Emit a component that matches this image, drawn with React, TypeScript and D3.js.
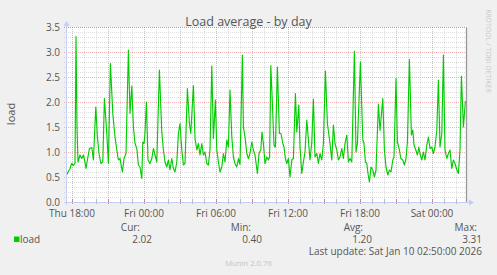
import React from 'react';
import * as d3 from 'd3';

// minutes relative to Thu Jan 8 2026 18:00
const sampleMinutes = [
  -25, -20, -10, -2, 7, 15, 20, 25, 30, 40, 49, 57, 65, 70, 77, 87, 99, 107, 119, 127,
  135, 144, 154, 162, 174, 182, 192, 204, 215, 224, 232, 240, 252, 260, 270, 282, 290, 299, 307, 315,
  324, 332, 340, 349, 354, 360, 365, 372, 380, 390, 399, 407, 415, 424, 437, 449, 457, 465, 474, 482,
  490, 499, 507, 515, 524, 532, 540, 549, 557, 565, 577, 587, 594, 607, 615, 624, 632, 640, 649, 657,
  665, 674, 682, 690, 699, 707, 717, 724, 732, 740, 749, 757, 765, 774, 782, 790, 799, 807, 815, 824,
  832, 840, 852, 857, 865, 874, 882, 890, 899, 907, 915, 927, 935, 944, 950, 957, 965, 974, 982, 988,
  994, 1002, 1010, 1017, 1027, 1037, 1045, 1054, 1060, 1067, 1074, 1082, 1090, 1099, 1107, 1117, 1124, 1134, 1140, 1149,
  1157, 1165, 1174, 1182, 1190, 1199, 1207, 1215, 1224, 1232, 1240, 1249, 1257, 1267, 1277, 1290, 1299, 1307, 1315, 1324,
  1332, 1340, 1349, 1357, 1365, 1374, 1382, 1390, 1399, 1412, 1420, 1427, 1442, 1454, 1460, 1467, 1474, 1480, 1487, 1495,
  1504, 1512, 1520, 1532, 1540, 1554, 1562, 1570, 1579, 1587, 1595, 1604, 1610, 1620, 1627, 1637, 1644, 1654, 1662, 1670,
  1677, 1687, 1697, 1704, 1710, 1719, 1727, 1734, 1740, 1749, 1757, 1765, 1774, 1782, 1790, 1799, 1807, 1815, 1824, 1832,
  1840, 1849, 1857, 1865, 1874, 1882, 1890, 1899, 1907, 1915, 1924, 1932, 1940, 1947, 1957, 1967,
];

const loadValues = [
  0.55, 0.6, 0.67, 0.77, 0.73, 0.77, 3.31, 1.5, 0.8, 0.94, 0.87, 0.94, 0.8, 0.67, 0.84, 1.07, 1.09, 0.84, 1.9, 1.3,
  0.97, 0.77, 0.8, 2.07, 1.37, 0.77, 2.77, 1.77, 1.3, 1.04, 0.84, 0.87, 0.6, 0.87, 0.97, 3.04, 1.77, 2.32, 1.5, 1.17,
  1.07, 0.74, 0.7, 0.47, 1.2, 1.17, 1.37, 2.0, 0.84, 0.77, 0.87, 1.07, 0.94, 0.8, 2.64, 1.4, 1.04, 0.8, 0.7, 0.84,
  0.64, 0.87, 0.67, 0.6, 0.8, 1.37, 1.57, 1.04, 0.74, 0.77, 2.27, 1.57, 1.37, 2.33, 1.27, 1.04, 1.17, 0.94, 1.17, 0.94,
  1.0, 0.77, 0.74, 1.04, 2.72, 1.27, 2.04, 1.04, 0.8, 0.6, 0.7, 0.97, 0.8, 1.24, 1.1, 2.24, 1.3, 0.9, 0.77, 0.7,
  0.87, 0.75, 2.94, 1.5, 1.3, 0.97, 0.87, 0.97, 1.2, 1.04, 0.94, 0.57, 0.97, 1.04, 1.4, 1.17, 0.77, 0.9, 0.84, 0.9,
  2.73, 1.97, 1.13, 1.1, 2.7, 1.37, 1.37, 1.17, 1.1, 0.87, 0.77, 0.87, 0.5, 0.84, 0.87, 2.17, 1.4, 1.94, 1.1, 0.57,
  0.8, 1.0, 1.64, 1.24, 0.84, 1.2, 2.06, 0.9, 0.97, 0.77, 0.97, 0.84, 1.17, 2.62, 1.57, 1.17, 0.84, 1.54, 1.17, 1.04,
  0.84, 0.9, 1.07, 0.87, 1.17, 1.34, 0.8, 0.87, 0.8, 3.02, 1.0, 1.17, 2.8, 1.24, 1.17, 0.8, 0.77, 0.57, 0.4, 0.7,
  0.64, 0.5, 0.64, 1.96, 1.43, 2.07, 1.04, 0.7, 0.54, 0.64, 0.6, 0.84, 0.9, 2.47, 1.2, 1.04, 0.87, 0.84, 0.74, 0.87,
  1.2, 2.85, 1.34, 1.44, 1.14, 1.04, 0.94, 1.1, 0.97, 0.84, 1.0, 0.84, 1.14, 1.3, 1.07, 1.1, 0.97, 1.1, 1.44, 2.44,
  1.1, 1.37, 2.94, 1.04, 0.87, 0.97, 1.04, 0.67, 0.84, 0.77, 0.64, 0.57, 1.04, 2.52, 1.5, 2.02,
];

const yTickValues = [0, 0.5, 1, 1.5, 2, 2.5, 3, 3.5];
const yTickLabels = ['0.0', '0.5', '1.0', '1.5', '2.0', '2.5', '3.0', '3.5'];
const xTickLabels = ['Thu 18:00', 'Fri 00:00', 'Fri 06:00', 'Fri 12:00', 'Fri 18:00', 'Sat 00:00'];
const legendHeaders = ['Cur:', 'Min:', 'Avg:', 'Max:'];
const legendValues = ['2.02', '0.40', '1.20', '3.31'];
const seriesName = 'load';
const title = 'Load average - by day';
const lastUpdate = 'Last update: Sat Jan 10 02:50:00 2026';

const W = 497;
const H = 275;
const FONT = "'Open Sans', 'Noto Sans', sans-serif";
const TEXT = '#555';
const GREEN = '#00cc00';
const AXIS = '#c4cdf5';
const MINOR = 'rgba(150,150,150,0.32)';
const MAJOR = 'rgba(220,90,90,0.45)';

export default function App() {
  const base = new Date(2026, 0, 8, 18, 0);
  const start = d3.timeMinute.offset(base, -25);
  const end = d3.timeMinute.offset(start, 2000);
  const x = d3.scaleTime().domain([start, end]).range([67, 467]);
  const y = d3.scaleLinear().domain([0, 3.5]).range([202, 27]);

  const data = sampleMinutes.map((m, i) => ({ t: d3.timeMinute.offset(base, m), v: loadValues[i] }));
  const line = d3
    .line<{ t: Date; v: number }>()
    .x((d) => x(d.t))
    .y((d) => y(d.v));

  const hours = d3.timeHour.range(start, end);
  const gridY = d3.range(0, 36).map((i) => i / 10);
  const px = (v: number) => Math.round(v) + 0.5;
  const labelTimes = xTickLabels.map((_, i) => d3.timeHour.offset(base, i * 6));
  const legendHeaderX = [140, 251, 363, 477];
  const legendValueX = [152, 262, 372, 482];

  return (
    <svg
      width={W}
      height={H}
      style={{ position: 'absolute', left: 0, top: 0, background: '#f0f0f0' }}
      fontFamily={FONT}
    >
      <rect x={0} y={0} width={W} height={H} fill="#f0f0f0" />
      <rect x={67} y={27} width={400} height={175} fill="#ffffff" />

      {/* horizontal grid */}
      {gridY.map((v) => {
        const major = Math.round(v * 10) % 5 === 0;
        return (
          <line
            key={'hy' + v}
            x1={64}
            x2={467}
            y1={px(y(v))}
            y2={px(y(v))}
            stroke={major ? MAJOR : MINOR}
            strokeDasharray="1,1"
            strokeWidth={1}
          />
        );
      })}
      <line x1={64} x2={467} y1={px(y(3.5))} y2={px(y(3.5))} stroke={MAJOR} strokeDasharray="1,1" />

      {/* vertical grid */}
      {hours.map((h) => {
        const major = h.getHours() % 3 === 0;
        const xx = px(x(h));
        return (
          <g key={'vx' + h.getTime()}>
            <line x1={xx} x2={xx} y1={27} y2={202} stroke={major ? MAJOR : MINOR} strokeDasharray="1,1" />
            <line
              x1={xx}
              x2={xx}
              y1={199}
              y2={204}
              stroke={major ? 'rgba(220,90,90,0.75)' : 'rgba(150,150,150,0.6)'}
            />
          </g>
        );
      })}

      {/* data line */}
      <path d={line(data) || ''} fill="none" stroke={GREEN} strokeWidth={1.15} strokeLinejoin="round" />

      {/* axes */}
      <line x1={64} x2={470} y1={202.5} y2={202.5} stroke={AXIS} />
      <line x1={66.5} x2={66.5} y1={205} y2={24} stroke={AXIS} />
      <path d="M469,199.5 L474,202.5 L469,205.5 Z" fill={AXIS} />
      <path d="M63.5,26 L66.5,21 L69.5,26 Z" fill={AXIS} />
      <line x1={466.5} x2={466.5} y1={28} y2={202} stroke="#999" strokeWidth={1.3} />

      {/* y tick labels */}
      {yTickValues.map((v, i) => (
        <text key={'yl' + i} x={60} y={y(v) + 3.5} textAnchor="end" fontSize={10} fill={TEXT}>
          {yTickLabels[i]}
        </text>
      ))}

      {/* x tick labels */}
      {labelTimes.map((t, i) => (
        <text key={'xl' + i} x={x(t)} y={217} textAnchor="middle" fontSize={10} fill={TEXT}>
          {xTickLabels[i]}
        </text>
      ))}

      {/* title */}
      <text x={248.5} y={26} textAnchor="middle" fontSize={12.5} fill={TEXT}>
        {title}
      </text>

      {/* y axis label */}
      <text transform="translate(15,114) rotate(-90)" textAnchor="middle" fontSize={11} fill={TEXT}>
        {seriesName}
      </text>

      {/* vertical watermark */}
      <text transform="translate(485.5,51) rotate(90)" textAnchor="middle" fontSize={7} fill="#c8c8c8">
        RRDTOOL / TOBI OETIKER
      </text>

      {/* legend */}
      <rect x={14} y={236.5} width={5.5} height={5.5} fill={GREEN} />
      <text x={20} y={243} fontSize={10} fill={TEXT}>
        {seriesName}
      </text>
      {legendHeaders.map((h, i) => (
        <text key={'lh' + i} x={legendHeaderX[i]} y={231} textAnchor="end" fontSize={10} fill={TEXT}>
          {h}
        </text>
      ))}
      {legendValues.map((v, i) => (
        <text key={'lv' + i} x={legendValueX[i]} y={243} textAnchor="end" fontSize={10} fill={TEXT}>
          {v}
        </text>
      ))}
      <text x={482} y={255} textAnchor="end" fontSize={10} fill={TEXT}>
        {lastUpdate}
      </text>
      <text x={248.5} y={266} textAnchor="middle" fontSize={7.7} fill="#c4c4c4">
        Munin 2.0.76
      </text>
    </svg>
  );
}
